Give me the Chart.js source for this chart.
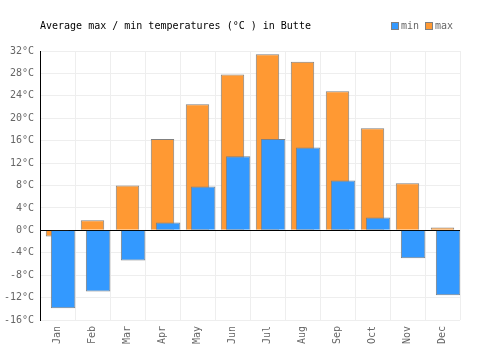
<!DOCTYPE html>
<html>
<head>
<meta charset="utf-8">
<script src="https://cdn.jsdelivr.net/npm/chart.js@4"></script>
<style>
  html, body { margin: 0; padding: 0; background: #fff; }
  #wrap { width: 500px; height: 350px; }
</style>
</head>
<body>
<div id="wrap"><canvas id="chart" width="500" height="350"></canvas></div>
<script>
// Data
const months = ['Jan', 'Feb', 'Mar', 'Apr', 'May', 'Jun', 'Jul', 'Aug', 'Sep', 'Oct', 'Nov', 'Dec'];
const minTemps = [-13.9, -10.9, -5.4, 1.4, 7.8, 13.2, 16.3, 14.8, 8.9, 2.3, -5.0, -11.6];
const maxTemps = [-1.1, 1.8, 8.0, 16.3, 22.5, 27.8, 31.4, 30.1, 24.8, 18.2, 8.4, 0.5];
const yTicks = [-16, -12, -8, -4, 0, 4, 8, 12, 16, 20, 24, 28, 32];

const titleText = 'Average max / min temperatures (°C ) in Butte';
const FONT = '"DejaVu Sans Mono", monospace';
const BLUE = '#3399ff';
const ORANGE = '#ff9933';
const EDGE = '#808080';

// min bars sit a bit right of the category centre, so they use their own hidden axis
const shift = 0.16;

// title + legend drawn in one row at the top
const headerPlugin = {
    id: 'header',
    afterDraw(chart) {
        const ctx = chart.ctx;
        ctx.save();
        ctx.font = '10px ' + FONT;
        ctx.textBaseline = 'middle';
        ctx.fillStyle = '#000';
        ctx.textAlign = 'left';
        ctx.fillText(titleText, 40, 26);

        const items = [['min', BLUE, 391], ['max', ORANGE, 425]];
        items.forEach(([label, color, x]) => {
            ctx.fillStyle = color;
            ctx.fillRect(x, 22.5, 7, 7);
            ctx.strokeStyle = EDGE;
            ctx.lineWidth = 1;
            ctx.strokeRect(x + 0.5, 22.5, 7, 7);
            ctx.fillStyle = '#666';
            ctx.fillText(label, x + 10, 26);
        });
        ctx.restore();
    }
};

new Chart(document.getElementById('chart').getContext('2d'), {
    type: 'bar',
    data: {
        labels: months,
        datasets: [{
            label: 'min',
            data: minTemps.map((v, i) => ({ x: i, y: v })),
            xAxisID: 'x2',
            grouped: false,
            backgroundColor: BLUE,
            borderColor: EDGE,
            borderWidth: 1,
            barPercentage: 0.7,
            categoryPercentage: 1
        }, {
            label: 'max',
            data: maxTemps,
            xAxisID: 'x',
            grouped: false,
            backgroundColor: ORANGE,
            borderColor: EDGE,
            borderWidth: 1,
            barPercentage: 0.67,
            categoryPercentage: 1
        }]
    },
    options: {
        responsive: false,
        animation: false,
        layout: { padding: { top: 51, right: 40, left: 0, bottom: 0 } },
        plugins: {
            legend: { display: false },
            title: { display: false },
            tooltip: { enabled: false }
        },
        scales: {
            x: {
                type: 'category',
                offset: true,
                grid: { offset: true, color: '#eeeeee', drawTicks: false },
                border: { display: false },
                ticks: {
                    color: '#666',
                    font: { family: FONT, size: 10 },
                    maxRotation: 90,
                    minRotation: 90,
                    padding: 6
                },
                afterFit(scale) { scale.height = 30; }
            },
            x2: {
                type: 'linear',
                display: false,
                offset: false,
                min: -0.5 - shift,
                max: 11.5 - shift
            },
            y: {
                min: yTicks[0],
                max: yTicks[yTicks.length - 1],
                afterBuildTicks(scale) {
                    scale.ticks = yTicks.map(v => ({ value: v }));
                },
                grid: {
                    color: ctx => ctx.tick && ctx.tick.value === 0 ? '#000' : '#eeeeee',
                    drawTicks: false
                },
                border: { display: true, color: '#000', width: 1 },
                ticks: {
                    color: '#666',
                    font: { family: FONT, size: 10 },
                    padding: 6,
                    callback: v => v + '°C'
                },
                afterFit(scale) { scale.width = 40; }
            }
        }
    },
    plugins: [headerPlugin]
});
</script>
</body>
</html>
